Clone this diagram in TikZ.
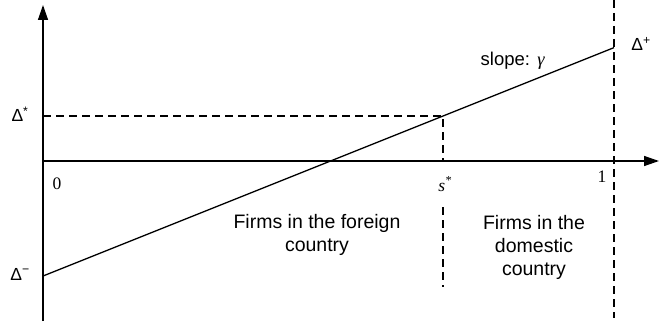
\documentclass[tikz,border=0pt]{standalone}
\usepackage{fontspec}
\setmainfont{Liberation Sans}
\newfontfamily\seriffont{Liberation Serif}
\usetikzlibrary{arrows.meta}
\begin{document}
\begin{tikzpicture}[x=1pt,y=-1pt,
  axis/.style={line width=1.4pt,-{Triangle[length=15pt,width=10pt]}},
  dashln/.style={line width=2.2pt,dash pattern=on 8pt off 5pt},
  lbl/.style={inner sep=0pt,font=\fontsize{17.5}{22}\selectfont},
  num/.style={inner sep=0pt,font=\fontsize{17.5}{22}\selectfont\seriffont},
  txt/.style={inner sep=0pt,align=center,font=\fontsize{19.5}{23}\selectfont}]
\useasboundingbox (0,0) rectangle (668,329);
% coordinates
\coordinate (O) at (43,161);
\coordinate (ytop) at (43,5);
\coordinate (ybot) at (43,321);
\coordinate (xend) at (659,161);
\coordinate (dminus) at (43,276);
\coordinate (dplus) at (614,47.6);
\coordinate (P) at (443,116);
\coordinate (dstar) at (43,116);
\coordinate (sstar) at (443,161);
\coordinate (v1top) at (614,0);
\coordinate (v1bot) at (614,318);
\coordinate (v2top) at (443,207);
\coordinate (v2bot) at (443,287);
% axes
\draw[line width=1.4pt] (ybot) -- (O);
\draw[axis] (O) -- (ytop);
\draw[axis] (O) -- (xend);
% line
\draw[line width=1.3pt] (dminus) -- (dplus);
% dashed
\draw[dashln] (dstar) -- (P) -- (sstar);
\draw[dashln] (v1top) -- (v1bot);
\draw[dashln] (v2top) -- (v2bot);
% labels
\node[lbl] (ldstar) at (20,114) {Δ\textsuperscript{*}};
\node[lbl] (ldminus) at (20,274) {Δ\textsuperscript{−}};
\node[lbl] (ldplus) at (641,44) {Δ\textsuperscript{+}};
\node[inner sep=0pt,anchor=base west,font=\fontsize{18.5}{22}\selectfont] (lslope) at (480.5,65) {slope:\hspace{0.4em}{\seriffont\itshape γ}};
\node[num] (lzero) at (57,184) {0};
\node[num] (lone) at (602,177) {1};
\node[num] (lsstar) at (445,184) {\itshape s\textsuperscript{*}};
\node[txt] (lforeign) at (317,235) {Firms in the foreign\\country};
\node[txt] (ldomestic) at (534,247) {Firms in the\\domestic\\country};
\end{tikzpicture}
\end{document}
